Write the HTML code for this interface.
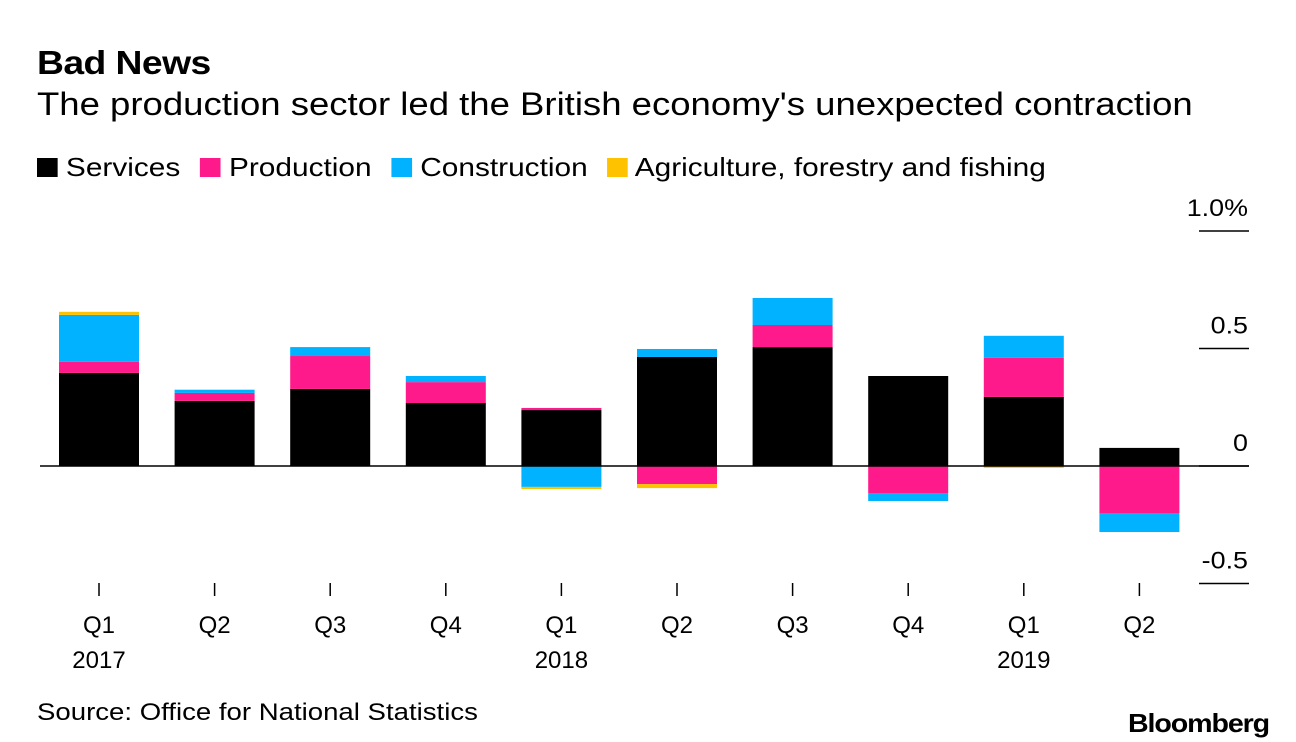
<!DOCTYPE html>
<html><head><meta charset="utf-8"><style>
body{margin:0;background:#fff;font-family:"Liberation Sans",Arial,sans-serif;}
#c{position:relative;width:1296px;height:742px;overflow:hidden}
.t{position:absolute;white-space:nowrap;color:#000;transform-origin:0 0}
</style></head><body>
<div id="c">
<div class="t" style="left:37px;top:44px;font-size:33px;font-weight:bold;letter-spacing:-0.5px;transform:scaleX(1.13)">Bad News</div>
<div class="t" style="left:37px;top:86px;font-size:32px;transform:scaleX(1.141)">The production sector led the British economy's unexpected contraction</div>
<div class="t" style="left:37px;top:152px;font-size:26px;transform:scaleX(1.147)">
<span><span style="display:inline-block;width:18px;height:19px;background:#000;vertical-align:-1px"></span> Services</span>
<span style="margin-left:10px"><span style="display:inline-block;width:18px;height:19px;background:#ff1a8c;vertical-align:-1px"></span> Production</span>
<span style="margin-left:10px"><span style="display:inline-block;width:18px;height:19px;background:#00b2ff;vertical-align:-1px"></span> Construction</span>
<span style="margin-left:10px"><span style="display:inline-block;width:18px;height:19px;background:#ffc200;vertical-align:-1px"></span> Agriculture, forestry and fishing</span>
</div>
<svg id="s" width="1296" height="742" style="position:absolute;left:0;top:0"></svg>
<div class="t" style="left:37px;top:699px;font-size:24px;transform:scaleX(1.149)">Source: Office for National Statistics</div>
<div class="t" style="left:1128px;top:708px;font-size:26px;font-weight:bold;letter-spacing:-1px;transform:scaleX(1.1)">Bloomberg</div>
</div>
<script>
const quarters=["Q1","Q2","Q3","Q4","Q1","Q2","Q3","Q4","Q1","Q2"];
const years=["2017","","","","2018","","","","2019",""];
const services=[0.396,0.277,0.328,0.268,0.238,0.464,0.506,0.383,0.294,0.077];
const production=[0.047,0.034,0.14,0.089,0.009,-0.077,0.094,-0.115,0.166,-0.2];
const construction=[0.2,0.013,0.038,0.026,-0.089,0.034,0.115,-0.034,0.094,-0.081];
const agriculture=[0.013,0.002,0,0,-0.009,-0.017,0,0,-0.008,0];
const yTicks=[1.0,0.5,0,-0.5];
const yTickLabels=["1.0%","0.5","0","-0.5"];
const colors=["#000","#ff1a8c","#00b2ff","#ffc200"];
const names=["services","production","construction","agriculture"];
const series=[services,production,construction,agriculture];
const svg=document.getElementById('s');const NS="http://www.w3.org/2000/svg";
const y=v=>466-v*235;
const x=i=>59+i*115.6;
const bw=80;
function mk(t,a){const e=document.createElementNS(NS,t);for(const k in a)e.setAttribute(k,a[k]);svg.appendChild(e);return e;}
yTicks.forEach((v,i)=>{
 const l=mk('line',{x1:1199,x2:1249,y1:y(v),y2:y(v),stroke:'#000','stroke-width':1.5});
 
 
 const t=mk('text',{x:1248,y:y(v)-15,'text-anchor':'end','font-size':24,'font-family':'Liberation Sans, sans-serif',transform:'translate(1248 0) scale(1.12 1) translate(-1248 0)'});
 t.textContent=yTickLabels[i];
 
 
});
quarters.forEach((q,i)=>{
 let pos=0,neg=0;
 series.forEach((s,k)=>{
  const v=s[i];if(!v)return;
  let top,bot;
  if(v>0){bot=pos;pos+=v;top=pos;}else{top=neg;neg+=v;bot=neg;}
  const r=mk('rect',{x:x(i),y:y(top),width:bw,height:Math.max(0.5,y(bot)-y(top)),fill:colors[k]});
  
  
 });
 const cx=x(i)+bw/2;
 const tk=mk('line',{x1:cx,x2:cx,y1:583,y2:596,stroke:'#000','stroke-width':1.5});
 
 
 const t=mk('text',{x:cx,y:633,'text-anchor':'middle','font-size':24,'font-family':'Liberation Sans, sans-serif'});
 t.textContent=q;
 
 
 if(years[i]){const t2=mk('text',{x:cx,y:668,'text-anchor':'middle','font-size':24,'font-family':'Liberation Sans, sans-serif'});
 t2.textContent=years[i];
 
 }
});
const z=mk('line',{x1:40,x2:1249,y1:y(0),y2:y(0),stroke:'#000','stroke-width':1.5});


</script>
</body></html>
